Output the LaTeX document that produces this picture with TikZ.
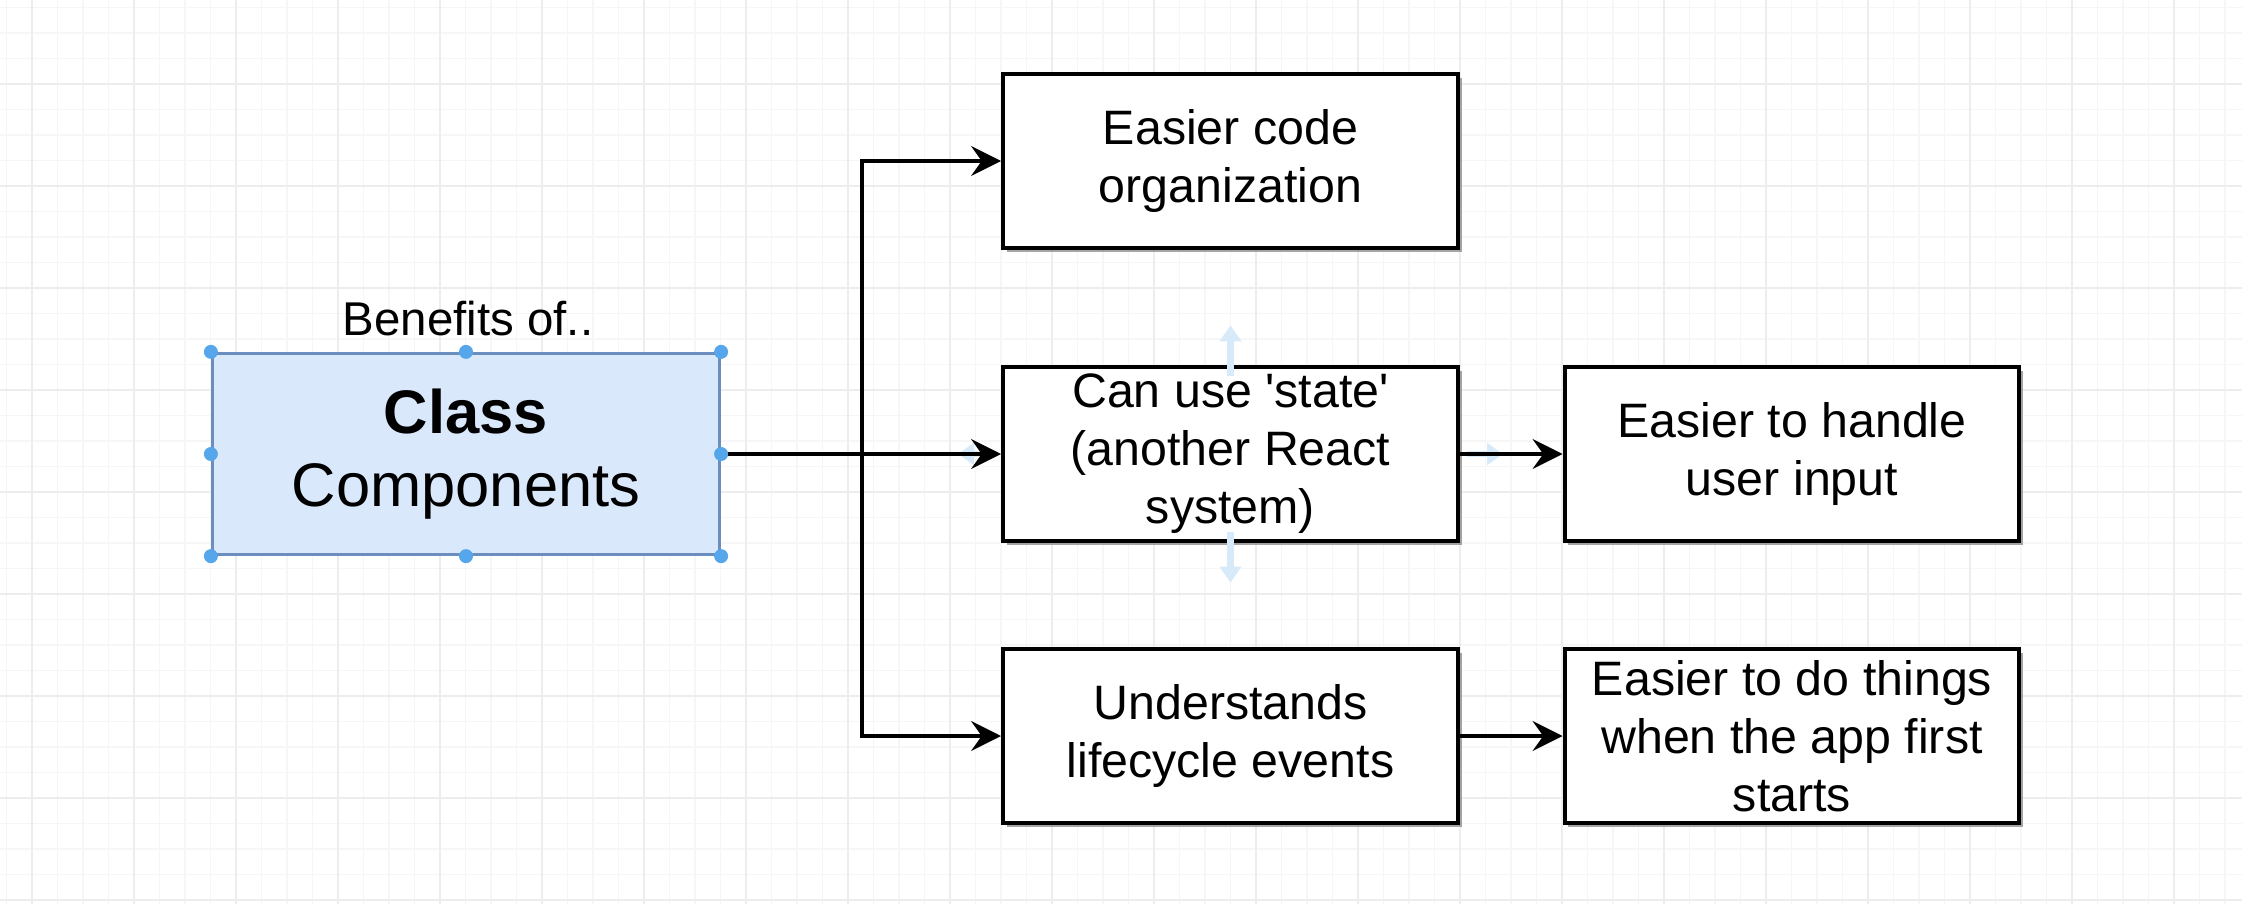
\documentclass[tikz,border=0pt]{standalone}
\usepackage{fontspec}
\setmainfont{Liberation Sans}
\usetikzlibrary{arrows.meta,shadows}

\definecolor{classfill}{HTML}{DAE8FC}
\definecolor{classline}{HTML}{6C8EBF}
\definecolor{handleblue}{HTML}{55A6EA}
\definecolor{hoverblue}{HTML}{D6EAFA}
\definecolor{gridminor}{HTML}{F6F6F6}
\definecolor{gridmajor}{HTML}{EDEDED}

\tikzset{
    benefitbox/.style={draw=black, line width=2.3pt, fill=white,
        minimum width=9.1cm, minimum height=3.48cm, align=center,
        font=\fontsize{27.5pt}{33pt}\selectfont,
        drop shadow={shadow xshift=2.2pt, shadow yshift=-2.2pt, fill=black!50, opacity=0.7}},
    classbox/.style={draw=classline, line width=1.9pt, fill=classfill,
        minimum width=10.14cm, minimum height=4.02cm, align=center,
        font=\fontsize{35pt}{42pt}\selectfont},
    conn/.style={line width=2.3pt, -{Stealth[length=17pt,width=17pt,inset=6pt]}},
    hoverarrow/.style={hoverblue, line width=3.5pt, -{Triangle[length=9pt,width=12pt]}},
}

\begin{document}
\begin{tikzpicture}[x=0.02cm, y=-0.02cm]
    \useasboundingbox (0,0) rectangle (2242,904);
    \fill[white] (0,0) rectangle (2242,904);
    % background grid
    \foreach \k in {-1,...,87}
        \draw[gridminor, line width=0.7pt] ({32+25.5*\k},0) -- ({32+25.5*\k},904);
    \foreach \k in {-3,...,32}
        \draw[gridminor, line width=0.7pt] (0,{84+25.5*\k}) -- (2242,{84+25.5*\k});
    \foreach \k in {0,...,21}
        \draw[gridmajor, line width=0.8pt] ({32+102*\k},0) -- ({32+102*\k},904);
    \foreach \k in {0,...,8}
        \draw[gridmajor, line width=0.8pt] (0,{84+102*\k}) -- (2242,{84+102*\k});

    % class box and the five benefits
    \node[classbox] (cls) at (466,454) {\textbf{Class}\\Components};
    \node[anchor=base, font=\fontsize{27pt}{30pt}\selectfont] (title) at (468,335) {Benefits of..};
    \node[benefitbox] (org) at (1230.5,161) {Easier code\\organization};
    \node[benefitbox] (state) at (1230.5,454) {Can use \textquotesingle state\textquotesingle\\(another React\\system)};
    \node[benefitbox] (life) at (1230.5,736) {Understands\\lifecycle events};
    \node[benefitbox] (input) at (1792,454) {Easier to handle\\user input};
    \node[benefitbox] (start) at (1792,736) {Easier to do things\\when the app first\\starts};

    % faint hover arrows round the state box
    \draw[hoverarrow] ([yshift=-6pt]state.north) -- ++(0,-50);
    \draw[hoverarrow] ([yshift=6pt]state.south) -- ++(0,50);
    \draw[hoverarrow] ([xshift=-4pt]state.west) -- ++(-36,0);
    \draw[hoverarrow] ([xshift=4pt]state.east) -- ++(36,0);

    % connectors
    \coordinate (bend) at (862,454);
    \draw[conn] (cls.east) -- (state.west);
    \draw[conn] (cls.east) -- (bend) |- (org.west);
    \draw[conn] (cls.east) -- (bend) |- (life.west);
    \draw[conn] (state.east) -- (input.west);
    \draw[conn] (life.east) -- (start.west);

    % selection handles
    \foreach \a in {north west,north,north east,east,south east,south,south west,west}
        \fill[handleblue] (cls.\a) circle (0.14cm);
\end{tikzpicture}
\end{document}
